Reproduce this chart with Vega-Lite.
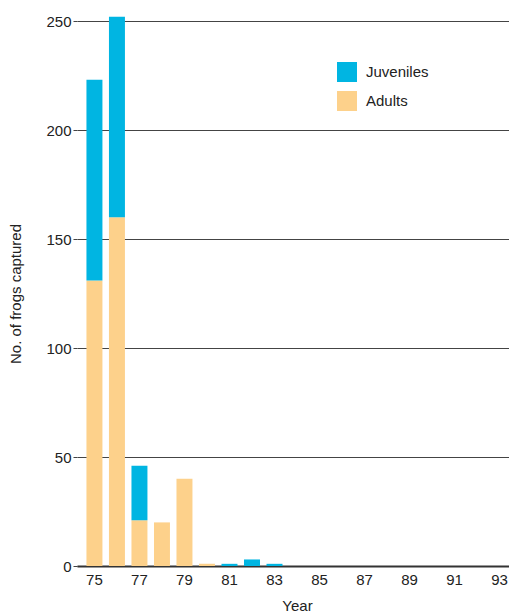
{
  "$schema": "https://vega.github.io/schema/vega-lite/v6.json",
  "width": 440,
  "height": 545,
  "autosize": {"type": "none"},
  "padding": {"left": 77, "top": 21, "right": 0, "bottom": 48},
  "config": {"view": {"stroke": null}, "font": "Liberation Sans"},
  "data": {"values": [
    {"year": "75", "type": "Adults", "count": 131},
    {"year": "75", "type": "Juveniles", "count": 92},
    {"year": "76", "type": "Adults", "count": 160},
    {"year": "76", "type": "Juveniles", "count": 92},
    {"year": "77", "type": "Adults", "count": 21},
    {"year": "77", "type": "Juveniles", "count": 25},
    {"year": "78", "type": "Adults", "count": 20},
    {"year": "79", "type": "Adults", "count": 40},
    {"year": "80", "type": "Adults", "count": 1},
    {"year": "81", "type": "Juveniles", "count": 1},
    {"year": "82", "type": "Juveniles", "count": 3},
    {"year": "83", "type": "Juveniles", "count": 1}
  ]},
  "mark": {"type": "bar", "clip": false},
  "encoding": {
    "x": {
      "field": "year", "type": "ordinal",
      "scale": {"domain": ["75","76","77","78","79","80","81","82","83","84","85","86","87","88","89","90","91","92","93"], "paddingInner": 0.29, "paddingOuter": 0.42},
      "axis": {
        "title": "Year", "titleFont": "Liberation Sans", "titleFontSize": 15, "titleFontWeight": "normal", "titleColor": "#222", "titlePadding": 11,
        "labelExpr": "toNumber(datum.value) % 2 == 1 ? datum.value : ''",
        "labelAngle": 0, "labelFontSize": 15, "labelColor": "#222", "labelPadding": 6,
        "ticks": false, "domainColor": "#333", "domainWidth": 2
      }
    },
    "y": {
      "aggregate": "sum", "field": "count", "type": "quantitative",
      "scale": {"domain": [0, 250], "nice": false},
      "axis": {
        "title": "No. of frogs captured", "titleFont": "Liberation Sans", "titleFontSize": 15, "titleFontWeight": "normal", "titleColor": "#222", "titlePadding": 22,
        "values": [0, 50, 100, 150, 200, 250],
        "labelFontSize": 15, "labelColor": "#222", "labelPadding": 2,
        "grid": true, "gridColor": "#444", "gridWidth": 1, "gridOpacity": 1,
        "domain": false, "tickSize": 4, "tickColor": "#444"
      }
    },
    "color": {
      "field": "type", "type": "nominal",
      "scale": {"domain": ["Juveniles", "Adults"], "range": ["#00b5e2", "#fdd18b"]},
      "legend": {
        "title": null, "orient": "none", "legendX": 260, "legendY": 41,
        "symbolType": "square", "symbolSize": 400, "symbolStrokeWidth": 0,
        "labelFontSize": 15, "labelColor": "#222", "labelOffset": 9, "rowPadding": 9
      }
    },
    "order": {"field": "type", "type": "nominal", "sort": "ascending"}
  }
}
